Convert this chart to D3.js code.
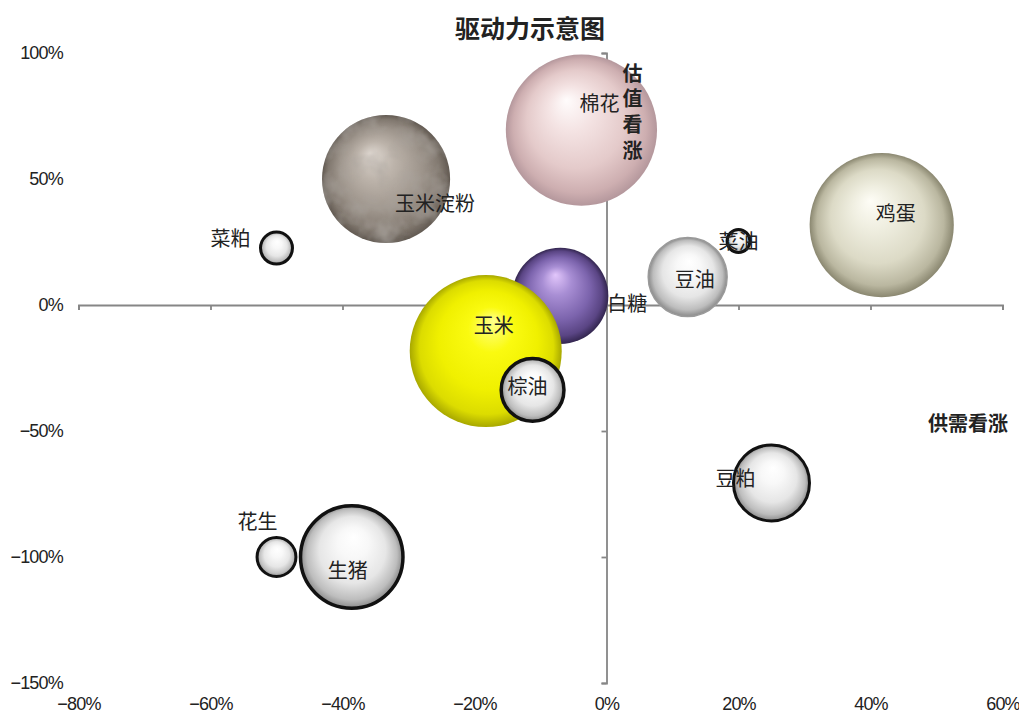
<!DOCTYPE html>
<html>
<head>
<meta charset="utf-8">
<title>驱动力示意图</title>
<script src="https://cdn.jsdelivr.net/npm/d3@7"></script>
<style>
    body { margin: 0; background: #fff; }
    svg text { font-family: "Noto Sans CJK SC", "Liberation Sans", sans-serif; }
    .axis path, .axis line { stroke: #868686; stroke-width: 1.8px; fill: none; }
    .tick-labels path, .tick-labels line { display: none; }
    .tick-labels text { font-family: "Liberation Sans", Arial, sans-serif; font-size: 18px; fill: #222; letter-spacing: -0.8px; }
    .bubble-label { font-size: 20px; fill: #222; text-anchor: middle; dominant-baseline: central; }
    .note { font-size: 20px; font-weight: bold; fill: #222; text-anchor: middle; dominant-baseline: central; }
    .note-v { font-size: 20px; font-weight: bold; fill: #222; writing-mode: tb; letter-spacing: 5.7px; }
    .title { font-size: 25px; font-weight: bold; fill: #222; text-anchor: middle; dominant-baseline: central; }
</style>
</head>
<body>
<div id="chart-area"></div>
<script>

// Data: one entry per commodity (draw order = z-order)
var names        = ["玉米淀粉", "棉花", "菜粕", "鸡蛋", "菜油", "豆油", "白糖", "玉米", "棕油", "豆粕", "花生", "生猪"];
var supplyDemand = [-0.334, -0.038, -0.50, 0.417, 0.20, 0.123, -0.07, -0.183, -0.112, 0.25, -0.50, -0.386];
var valuation    = [0.50, 0.694, 0.226, 0.317, 0.254, 0.111, 0.036, -0.183, -0.337, -0.706, -1.00, -1.00];
var bubbleSize   = [71, 99, 5.3, 90, 2.9, 28, 40, 100, 19, 27, 7.6, 48.6];

var xTicks = [-0.8, -0.6, -0.4, -0.2, 0, 0.2, 0.4, 0.6];
var yTicks = [-1.5, -1, -0.5, 0, 0.5, 1];

var chartTitle = "驱动力示意图";
var yNote = "估值看涨";
var xNote = "供需看涨";


/*
 * BubbleVis - Object constructor function
 * @param _parentElement  -- the HTML element in which to draw the visualization
 * @param _data           -- array of {name, x, y, size}
 */

BubbleVis = function(_parentElement, _data){
    this.parentElement = _parentElement;
    this.data = _data;

    this.initVis();
}


BubbleVis.prototype.initVis = function(){
    var vis = this;

    vis.width = 1019;
    vis.height = 713;

    vis.svg = d3.select("#" + vis.parentElement).append("svg")
        .attr("width", vis.width)
        .attr("height", vis.height);

    // Scales
    vis.x = d3.scaleLinear()
        .domain([-0.8, 0.6])
        .range([78.5, 1002.5]);

    vis.y = d3.scaleLinear()
        .domain([-1.5, 1])
        .range([683, 53]);

    vis.r = d3.scaleSqrt()
        .domain([0, 100])
        .range([0, 76]);

    vis.fmt = d3.format(".0%");

    // Fill looks for the balls
    vis.looks = {
        pink:   { fx: "40%", fy: "30%", stops: ["#fffcfc", "#f4e3e3", "#e4caca", "#cdaeb0", "#b4979c"] },
        stone:  { fx: "38%", fy: "30%", stops: ["#ddd6cf", "#bcb3aa", "#9d948b", "#81786f", "#625a52"] },
        cream:  { fx: "42%", fy: "33%", stops: ["#fefdf6", "#efeee0", "#dcdac6", "#bab7a0", "#8a8770"] },
        purple: { fx: "45%", fy: "28%", stops: ["#e2c6fb", "#a88ed4", "#7c64ad", "#5a4584", "#33264f"] },
        yellow: { fx: "55%", fy: "30%", stops: ["#ffff8c", "#fafa10", "#f0f000", "#dcdc00", "#a8a800"] },
        white:  { fx: "52%", fy: "30%", stops: ["#ffffff", "#f8f8f8", "#e6e6e6", "#bdbdbd", "#8a8a8a"] }
    };

    // Per-bubble look, outline and label offset (px)
    vis.style = {
        "玉米淀粉": { look: "stone",  stroke: "none",    sw: 0,   dx: 49,   dy: 23 },
        "棉花":     { look: "pink",   stroke: "none",    sw: 0,   dx: 18,   dy: -28 },
        "菜粕":     { look: "white",  stroke: "#111",    sw: 3,   dx: -46,  dy: -11 },
        "鸡蛋":     { look: "cream",  stroke: "none",    sw: 0,   dx: 14,   dy: -13 },
        "菜油":     { look: "white",  stroke: "#111",    sw: 3,   dx: 0,    dy: 0 },
        "豆油":     { look: "white",  stroke: "#9a9a9a", sw: 1.5, dx: 7,    dy: 1 },
        "白糖":     { look: "purple", stroke: "none",    sw: 0,   dx: 67,   dy: 7 },
        "玉米":     { look: "yellow", stroke: "none",    sw: 0,   dx: 8,    dy: -27 },
        "棕油":     { look: "white",  stroke: "#111",    sw: 3.5, dx: -5,   dy: -4 },
        "豆粕":     { look: "white",  stroke: "#111",    sw: 3,   dx: -36,  dy: -5 },
        "花生":     { look: "white",  stroke: "#111",    sw: 3,   dx: -19,  dy: -37 },
        "生猪":     { look: "white",  stroke: "#111",    sw: 3.5, dx: -4,   dy: 12 }
    };

    var defs = vis.svg.append("defs");

    Object.keys(vis.looks).forEach(function(key){
        var l = vis.looks[key];
        var grad = defs.append("radialGradient")
            .attr("id", "grad-" + key)
            .attr("cx", "50%").attr("cy", "50%").attr("r", "50%")
            .attr("fx", l.fx).attr("fy", l.fy);
        var offs = [0, 0.3, 0.65, 0.88, 1];
        l.stops.forEach(function(c, i){
            grad.append("stop").attr("offset", offs[i]).attr("stop-color", c);
        });
    });

    // Mottled texture for the corn starch ball
    var filt = defs.append("filter")
        .attr("id", "mottle")
        .attr("x", "0%").attr("y", "0%").attr("width", "100%").attr("height", "100%");
    filt.append("feTurbulence")
        .attr("type", "fractalNoise")
        .attr("baseFrequency", 0.045)
        .attr("numOctaves", 3)
        .attr("seed", 7)
        .attr("result", "noise");
    filt.append("feColorMatrix")
        .attr("in", "noise")
        .attr("type", "matrix")
        .attr("values", "0 0 0 0 0.40  0 0 0 0 0.37  0 0 0 0 0.34  1.3 0 0 0 -0.52")
        .attr("result", "spots");
    filt.append("feComposite")
        .attr("in", "spots").attr("in2", "SourceAlpha")
        .attr("operator", "in").attr("result", "clipped");
    var merge = filt.append("feMerge");
    merge.append("feMergeNode").attr("in", "SourceGraphic");
    merge.append("feMergeNode").attr("in", "clipped");

    // Axes crossing at zero
    vis.xAxis = d3.axisBottom(vis.x)
        .tickValues(xTicks)
        .tickSize(5)
        .tickFormat("");

    vis.yAxis = d3.axisLeft(vis.y)
        .tickValues(yTicks)
        .tickSize(5)
        .tickFormat("");

    vis.svg.append("g")
        .attr("class", "x-axis axis")
        .attr("transform", "translate(0," + vis.y(0) + ")")
        .call(vis.xAxis);

    vis.svg.append("g")
        .attr("class", "y-axis axis")
        .attr("transform", "translate(" + vis.x(0) + ",0)")
        .call(vis.yAxis);

    // Tick labels sit at the low end of the chart
    vis.svg.append("g")
        .attr("class", "tick-labels")
        .attr("transform", "translate(0,697)")
        .call(d3.axisBottom(vis.x).tickValues(xTicks).tickSize(0).tickPadding(0).tickFormat(vis.fmt));

    vis.svg.append("g")
        .attr("class", "tick-labels")
        .attr("transform", "translate(63,0)")
        .call(d3.axisLeft(vis.y).tickValues(yTicks).tickSize(0).tickPadding(0).tickFormat(vis.fmt));

    vis.updateVis();

    // Title and quadrant notes (on top of the balls)
    vis.svg.append("text")
        .attr("class", "title")
        .attr("x", 530)
        .attr("y", 27)
        .text(chartTitle);

    vis.svg.append("text")
        .attr("class", "note-v")
        .attr("x", vis.x(0) + 26)
        .attr("y", 63)
        .text(yNote);

    vis.svg.append("text")
        .attr("class", "note")
        .attr("x", 968)
        .attr("y", 422)
        .text(xNote);
}


BubbleVis.prototype.updateVis = function(){
    var vis = this;

    vis.svg.append("g")
        .attr("class", "bubbles")
        .selectAll("circle")
        .data(vis.data)
        .enter().append("circle")
        .attr("cx", function(d){ return vis.x(d.x); })
        .attr("cy", function(d){ return vis.y(d.y); })
        .attr("r", function(d){ return vis.r(d.size) - vis.style[d.name].sw / 2; })
        .attr("fill", function(d){ return "url(#grad-" + vis.style[d.name].look + ")"; })
        .attr("stroke", function(d){ return vis.style[d.name].stroke; })
        .attr("stroke-width", function(d){ return vis.style[d.name].sw; })
        .attr("filter", function(d){ return vis.style[d.name].look == "stone" ? "url(#mottle)" : null; });

    // Labels on top of all balls
    vis.svg.append("g")
        .attr("class", "labels")
        .selectAll("text")
        .data(vis.data)
        .enter().append("text")
        .attr("class", "bubble-label")
        .attr("x", function(d){ return vis.x(d.x) + vis.style[d.name].dx; })
        .attr("y", function(d){ return vis.y(d.y) + vis.style[d.name].dy; })
        .text(function(d){ return d.name; });
}


var rows = names.map(function(n, i){
    return { name: n, x: supplyDemand[i], y: valuation[i], size: bubbleSize[i] };
});

var bubbleVis = new BubbleVis("chart-area", rows);

</script>
</body>
</html>
